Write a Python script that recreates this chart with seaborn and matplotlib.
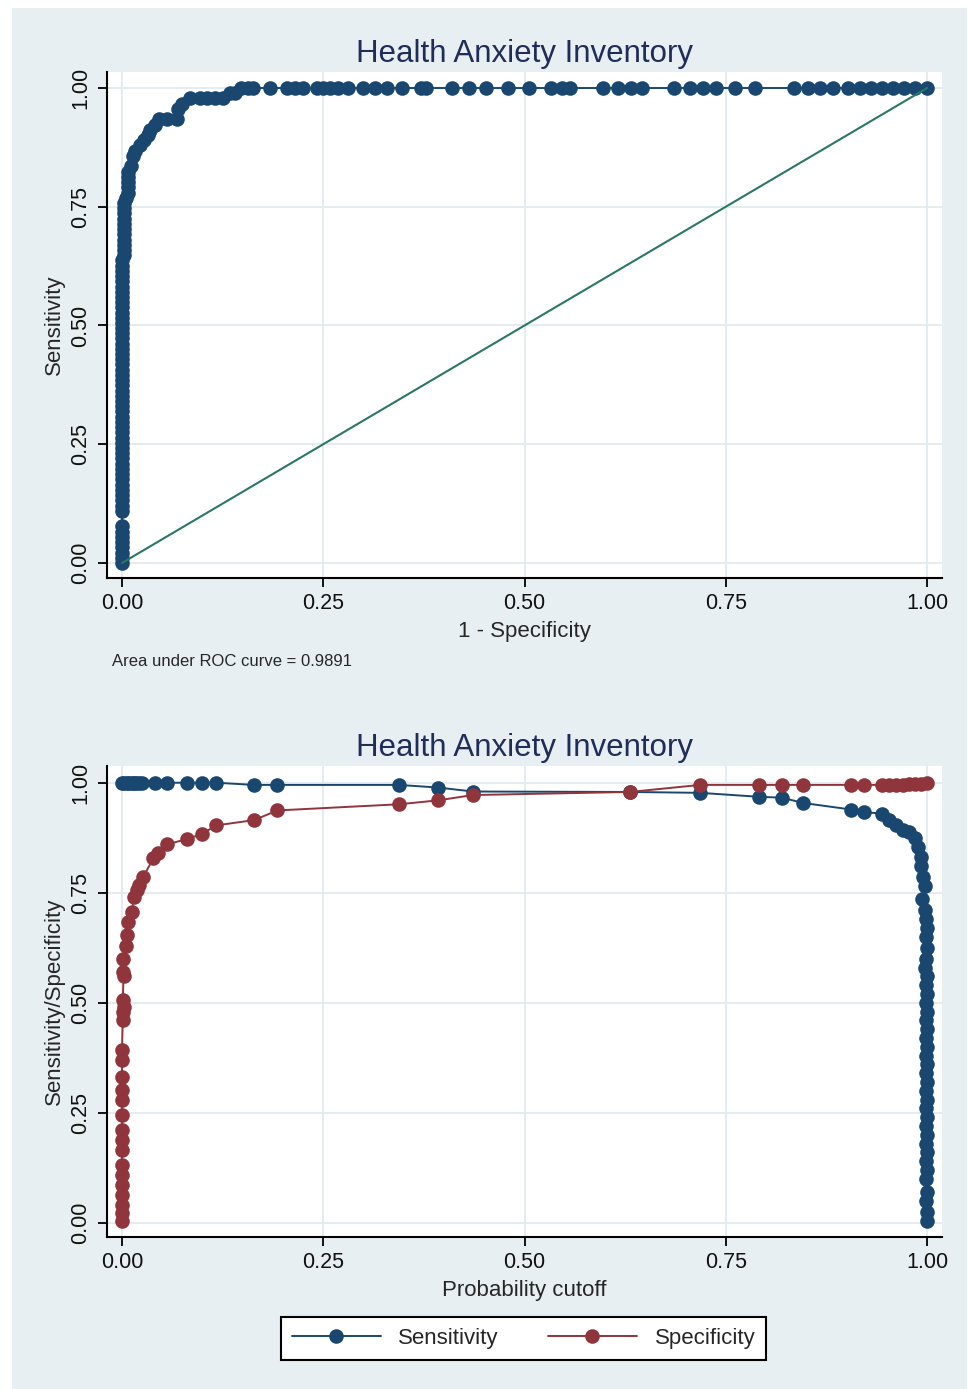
import matplotlib
matplotlib.use("Agg")
import matplotlib.pyplot as plt
import seaborn as sns
from matplotlib.patches import Rectangle

# ROC curve points (1 - specificity, sensitivity)
roc_fpr = [0.000, 0.000, 0.000, 0.000, 0.000, 0.000, 0.000, 0.000, 0.000, 0.000,
           0.000, 0.000, 0.000, 0.000, 0.000, 0.000, 0.000, 0.000, 0.000, 0.000,
           0.000, 0.000, 0.000, 0.000, 0.000, 0.000, 0.000, 0.000, 0.000, 0.000,
           0.000, 0.000, 0.000, 0.000, 0.000, 0.000, 0.000, 0.000, 0.000, 0.000,
           0.000, 0.000, 0.000, 0.000, 0.000, 0.000, 0.000, 0.000, 0.000, 0.000,
           0.000, 0.000, 0.000, 0.000, 0.000, 0.000, 0.000, 0.002, 0.002, 0.003,
           0.003, 0.003, 0.003, 0.003, 0.003, 0.003, 0.003, 0.003,
           0.005, 0.008, 0.008, 0.008, 0.008, 0.008, 0.011, 0.014, 0.016, 0.022,
           0.027, 0.032, 0.035, 0.041, 0.046, 0.056, 0.068, 0.070, 0.075, 0.084,
           0.097, 0.106, 0.115, 0.125, 0.134, 0.140, 0.148, 0.156, 0.163,
           0.184, 0.205, 0.215, 0.225, 0.242, 0.250, 0.258, 0.268, 0.281, 0.299,
           0.314, 0.329, 0.348, 0.371, 0.378, 0.410, 0.431, 0.452, 0.480, 0.506,
           0.533, 0.547, 0.557, 0.598, 0.616, 0.632, 0.646, 0.686, 0.706, 0.722,
           0.738, 0.761, 0.786, 0.835, 0.852, 0.867, 0.883, 0.902, 0.917, 0.930,
           0.944, 0.958, 0.971, 0.985, 1.000]
roc_tpr = [0.000, 0.011, 0.022, 0.033, 0.044, 0.055, 0.066, 0.077, 0.110, 0.121,
           0.132, 0.143, 0.154, 0.165, 0.176, 0.187, 0.198, 0.209, 0.220, 0.231,
           0.242, 0.253, 0.264, 0.275, 0.286, 0.297, 0.308, 0.319, 0.330, 0.341,
           0.352, 0.363, 0.374, 0.385, 0.396, 0.407, 0.418, 0.429, 0.440, 0.451,
           0.462, 0.473, 0.484, 0.495, 0.505, 0.516, 0.527, 0.538, 0.549, 0.560,
           0.571, 0.582, 0.593, 0.604, 0.615, 0.626, 0.637, 0.648, 0.659, 0.670,
           0.681, 0.692, 0.703, 0.714, 0.725, 0.736, 0.747, 0.758,
           0.769, 0.780, 0.791, 0.802, 0.813, 0.824, 0.835, 0.857, 0.868, 0.879,
           0.890, 0.901, 0.912, 0.923, 0.934, 0.934, 0.934, 0.956, 0.967, 0.978,
           0.978, 0.978, 0.978, 0.978, 0.989, 0.989, 1.000, 1.000, 1.000,
           1.000, 1.000, 1.000, 1.000, 1.000, 1.000, 1.000, 1.000, 1.000, 1.000,
           1.000, 1.000, 1.000, 1.000, 1.000, 1.000, 1.000, 1.000, 1.000, 1.000,
           1.000, 1.000, 1.000, 1.000, 1.000, 1.000, 1.000, 1.000, 1.000, 1.000,
           1.000, 1.000, 1.000, 1.000, 1.000, 1.000, 1.000, 1.000, 1.000, 1.000,
           1.000, 1.000, 1.000, 1.000, 1.000]
ref_x = [0.0, 1.0]
ref_y = [0.0, 1.0]
auc_text = "Area under ROC curve = 0.9891"

# sensitivity / specificity against probability cutoff
sens_cut = [0.000, 0.003, 0.006, 0.009, 0.012, 0.015, 0.018, 0.021, 0.025, 0.041,
            0.056, 0.081, 0.099, 0.117, 0.164, 0.193, 0.344, 0.393, 0.436, 0.631,
            0.718, 0.791, 0.820, 0.846, 0.906, 0.922, 0.944, 0.953, 0.961, 0.970,
            0.978, 0.985, 0.989, 0.993, 0.993, 0.995, 0.998, 0.994, 0.998,
            0.999, 1.000, 0.999, 1.000, 0.999, 0.998, 1.000, 0.999, 1.000, 0.999,
            1.000, 0.999, 1.000, 0.999, 1.000, 0.999, 1.000, 0.999, 1.000, 0.999,
            1.000, 0.999, 1.000, 0.999, 1.000, 0.999, 1.000, 0.999, 1.000, 0.999,
            1.000, 0.999, 1.000, 1.000]
sens_val = [1.000, 1.000, 1.000, 1.000, 1.000, 1.000, 1.000, 1.000, 1.000, 1.000,
            1.000, 1.000, 1.000, 1.000, 0.995, 0.995, 0.995, 0.989, 0.980, 0.979,
            0.977, 0.968, 0.966, 0.954, 0.939, 0.933, 0.930, 0.915, 0.903, 0.892,
            0.888, 0.874, 0.854, 0.832, 0.810, 0.785, 0.765, 0.735, 0.710,
            0.690, 0.670, 0.650, 0.625, 0.600, 0.580, 0.560, 0.540, 0.520, 0.500,
            0.480, 0.460, 0.440, 0.420, 0.400, 0.380, 0.360, 0.340, 0.320, 0.300,
            0.280, 0.260, 0.240, 0.220, 0.200, 0.180, 0.160, 0.140, 0.120, 0.100,
            0.070, 0.050, 0.025, 0.005]
spec_cut = [0.000, 0.000, 0.000, 0.000, 0.000, 0.000, 0.000, 0.000, 0.000, 0.000,
            0.000, 0.000, 0.000, 0.000, 0.000, 0.000, 0.001, 0.001,
            0.002, 0.001, 0.002, 0.001, 0.001, 0.005, 0.006, 0.007, 0.012, 0.015,
            0.019, 0.021, 0.026, 0.039, 0.045, 0.056, 0.081, 0.099, 0.117, 0.164,
            0.193, 0.344, 0.393, 0.436, 0.631, 0.718, 0.791, 0.820, 0.846, 0.906,
            0.922, 0.944, 0.953, 0.961, 0.970, 0.978, 0.985, 0.993, 1.000]
spec_val = [0.004, 0.022, 0.040, 0.063, 0.085, 0.108, 0.131, 0.165, 0.188, 0.211,
            0.245, 0.279, 0.302, 0.331, 0.370, 0.393, 0.461, 0.479,
            0.490, 0.506, 0.560, 0.570, 0.600, 0.630, 0.653, 0.683, 0.706, 0.740,
            0.756, 0.767, 0.785, 0.828, 0.840, 0.860, 0.872, 0.883, 0.903, 0.915,
            0.937, 0.951, 0.960, 0.972, 0.979, 0.995, 0.995, 0.995, 0.995, 0.995,
            0.995, 0.995, 0.995, 0.995, 0.995, 0.997, 0.997, 0.998, 1.000]

ticks = [0.0, 0.25, 0.5, 0.75, 1.0]
tick_labels = ["0.00", "0.25", "0.50", "0.75", "1.00"]

navy = "#1a476f"
maroon = "#90353b"
green = "#2a7765"
title_col = "#1f2d58"
bg = "#e8eff2"
grid_col = "#e3ebee"

sns.set_style("white")
plt.rcParams["font.family"] = ["Liberation Sans", "DejaVu Sans"]

W, H = 968, 1389
fig = plt.figure(figsize=(W / 100, H / 100), dpi=100)
fig.patches.append(Rectangle((12 / W, 0), 1 - 13 / W, 1 - 8 / H,
                             transform=fig.transFigure, facecolor=bg,
                             edgecolor="none", zorder=-5))

ax1 = fig.add_axes([107 / W, 1 - 578 / H, 835 / W, 506 / H])
ax2 = fig.add_axes([107 / W, 1 - 1237 / H, 835 / W, 471 / H])

line_kw = dict(sort=False, estimator=None, marker="o", markersize=10.5,
               markeredgewidth=0, linewidth=1.4)

sns.lineplot(x=roc_fpr, y=roc_tpr, color=navy, ax=ax1, **line_kw)
sns.lineplot(x=ref_x, y=ref_y, color=green, linewidth=1.5, ax=ax1, zorder=5)

sns.lineplot(x=sens_cut, y=sens_val, color=navy, ax=ax2, label="Sensitivity", **line_kw)
sns.lineplot(x=spec_cut, y=spec_val, color=maroon, ax=ax2, label="Specificity", **line_kw)
handles, labels = ax2.get_legend_handles_labels()
if ax2.get_legend() is not None:
    ax2.get_legend().remove()

for ax, ylo, yhi in [(ax1, -0.0316, 1.0337), (ax2, -0.0325, 1.038)]:
    ax.set_facecolor("white")
    ax.set_xlim(-0.0186, 1.0186)
    ax.set_ylim(ylo, yhi)
    ax.set_xticks(ticks)
    ax.set_xticklabels(tick_labels)
    ax.set_yticks(ticks)
    ax.set_yticklabels(tick_labels, rotation=90, va="center")
    ax.grid(True, color=grid_col, linewidth=1.3)
    ax.set_axisbelow(True)
    for side in ["top", "right"]:
        ax.spines[side].set_visible(False)
    for side in ["left", "bottom"]:
        ax.spines[side].set_color("black")
        ax.spines[side].set_linewidth(1.5)
    ax.tick_params(axis="both", direction="out", length=6.5, width=1.3,
                   color="black", labelsize=15.5, labelcolor="#111111",
                   left=True, bottom=True)
    ax.tick_params(axis="x", pad=4)
    ax.tick_params(axis="y", pad=5)

ax1.set_xlabel("1 - Specificity", fontsize=16, labelpad=5)
ax1.set_ylabel("Sensitivity", fontsize=16, labelpad=4)
ax2.set_xlabel("Probability cutoff", fontsize=16, labelpad=5)
ax2.set_ylabel("Sensitivity/Specificity", fontsize=16, labelpad=4)

fig.text(524.5 / W, 1 - 54 / H, "Health Anxiety Inventory", fontsize=22.5,
         color=title_col, ha="center", va="center")
fig.text(524.5 / W, 1 - 748 / H, "Health Anxiety Inventory", fontsize=22.5,
         color=title_col, ha="center", va="center")
fig.text(112 / W, 1 - 661 / H, auc_text, fontsize=12, ha="left", va="center")

leg = fig.legend(handles, labels, loc="center", ncol=2,
                 bbox_to_anchor=(523.5 / W, 1 - 1338.5 / H),
                 fontsize=16, frameon=True, fancybox=False, facecolor="white",
                 framealpha=1, edgecolor="black", handlelength=4.0,
                 handletextpad=0.8, columnspacing=2.2, borderpad=0.5)
leg.get_frame().set_linewidth(1.5)

fig.savefig("out.png", dpi=100, facecolor="white")
